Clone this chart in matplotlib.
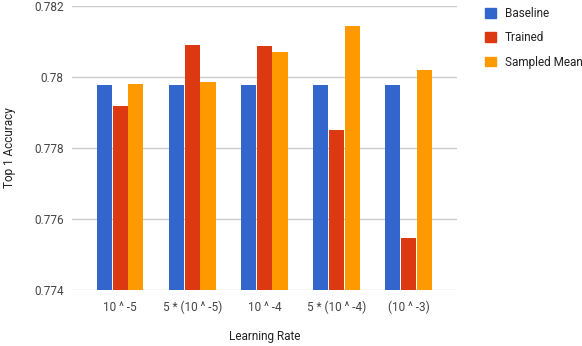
import numpy as np
import matplotlib
matplotlib.use("Agg")
from matplotlib import pyplot as plt
from matplotlib.patches import Patch

plt.rcParams['font.family'] = ['Roboto', 'DejaVu Sans']

categories = ["10 ^ -5", "5 * (10 ^ -5)", "10 ^ -4", "5 * (10 ^ -4)", "(10 ^ -3)"]
baseline = [0.77977, 0.77977, 0.77977, 0.77977, 0.77977]
trained = [0.77918, 0.78090, 0.78087, 0.77851, 0.77547]
sampled_mean = [0.77980, 0.77986, 0.78070, 0.78144, 0.78020]
series_names = ["Baseline", "Trained", "Sampled Mean"]
colors = ["#3366cc", "#dc3912", "#ff9900"]

fig = plt.figure(figsize=(5.82, 3.46), dpi=100)
ax = fig.add_axes([0.1237, 0.162, 0.661, 0.8207])

x = np.arange(len(categories))
w = 0.21
for k, vals in enumerate([baseline, trained, sampled_mean]):
    ax.bar(x + (k - 1) * (w + 0.008), np.array(vals) - 0.774, width=w, bottom=0.774,
           color=colors[k], zorder=3)

ax.set_ylim(0.774, 0.782)
ax.set_xlim(-0.667, 4.667)
ax.set_yticks([0.774, 0.776, 0.778, 0.780, 0.782])
ax.set_yticklabels(["0.774", "0.776", "0.778", "0.78", "0.782"])
ax.set_xticks(x)
ax.set_xticklabels(categories)
ax.grid(axis='y', color='#cccccc', linewidth=1, zorder=0)
for s in ax.spines.values():
    s.set_visible(False)
ax.tick_params(length=0, labelsize=8.5, colors='#444444', pad=6)
ax.tick_params(axis='x', pad=8)
ax.set_ylabel("Top 1 Accuracy", fontsize=8.5, color='#222222', labelpad=13)
ax.set_xlabel("Learning Rate", fontsize=8.5, color='#222222', labelpad=11)

handles = [Patch(facecolor=c, edgecolor=c) for c in colors]
fig.legend(handles, series_names, loc='upper left', bbox_to_anchor=(0.815, 1.01),
           frameon=False, fontsize=8.5, handlelength=0.9, handleheight=0.9,
           handletextpad=0.8, labelspacing=0.95, labelcolor='#222222')

fig.savefig("out.png", dpi=100)
